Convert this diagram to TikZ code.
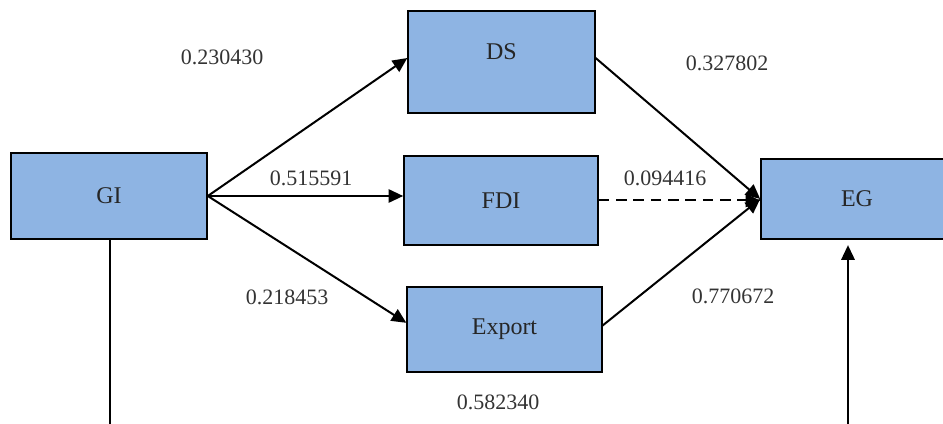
\documentclass[tikz,border=0pt]{standalone}
\usepackage{fontspec}
\setmainfont{Liberation Serif}
\usetikzlibrary{arrows.meta}
\definecolor{boxblue}{HTML}{8EB4E3}
\tikzset{
  box/.style={draw=black, line width=1.2pt, fill=boxblue, inner sep=0pt,
    font=\fontsize{18}{21}\selectfont, text=black!85},
  link/.style={line width=1.5pt, -{Triangle[length=11pt,width=10pt]}},
  weight/.style={font=\fontsize{16.5}{19}\selectfont, text=black!80}
}

\begin{document}
\begin{tikzpicture}[x=0.75pt,y=-0.75pt]
    \useasboundingbox (0,0) rectangle (943,424);

    % boxes
    \node[box, minimum width=147pt, minimum height=64.5pt] (gi) at (109,196) {GI};
    \node[box, minimum width=140pt, minimum height=76.5pt, text depth=16pt] (ds) at (501.5,62) {DS};
    \node[box, minimum width=145.5pt, minimum height=67pt] (fdi) at (501,200.5) {FDI};
    \node[box, minimum width=146pt, minimum height=64pt] (export) at (504.5,329.5) {Export};
    \node[box, minimum width=144pt, minimum height=60pt] (eg) at (857,199) {EG};

    \coordinate (giout) at (110,424);
    \coordinate (egin) at (848,424);

    % paths
    \draw[link] (gi.east) -- ([yshift=3pt]ds.west);
    \draw[link] (gi.east) -- (gi.east -| fdi.west);
    \draw[link] (gi.east) -- ([yshift=5pt]export.west);
    \draw[link] ([yshift=3pt]ds.east) -- (eg.west);
    \draw[link, dash pattern=on 8pt off 5pt] (fdi.east) -- (fdi.east -| eg.west);
    \draw[link] ([yshift=3pt]export.east) -- (eg.west);
    \draw[line width=1.5pt] (gi.south -| giout) -- (giout);
    \draw[link, shorten >=4pt] (egin) -- (egin |- eg.south);

    % coefficients
    \foreach \n/\x/\y/\val in {a/222/57/0.230430, b/727/63/0.327802,
      c/311/178/0.515591, d/665/178/0.094416, e/287/297/0.218453,
      f/733/296/0.770672, g/498/402/0.582340} {
        \node[weight] (w\n) at (\x,\y) {\val};
    }
\end{tikzpicture}
\end{document}
